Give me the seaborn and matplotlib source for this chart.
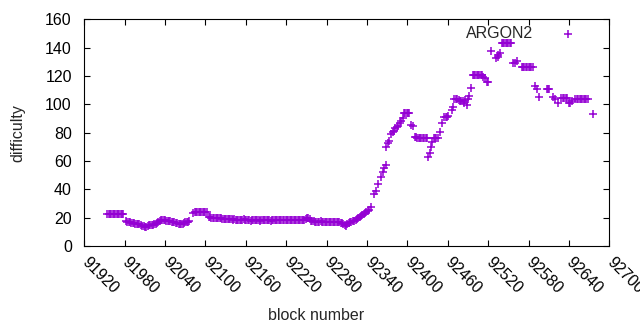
import matplotlib
matplotlib.use("Agg")
import matplotlib.pyplot as plt
import numpy as np
import seaborn as sns
import pandas as pd

# difficulty per block
blocks = [
    91954, 91956, 91958, 91960, 91962, 91964, 91966, 91968, 91970, 91972, 91974, 91976, 91978,
    91982, 91984, 91986, 91988, 91990, 91992, 91994, 91996, 91998, 92000, 92002, 92004, 92006,
    92008, 92010, 92012, 92014, 92016, 92018, 92020, 92022, 92024, 92026, 92028, 92030, 92032,
    92034, 92036, 92038, 92040, 92042, 92044, 92046, 92048, 92050, 92052, 92054, 92056, 92058,
    92060, 92062, 92064, 92066, 92068, 92070, 92072, 92074, 92076,
    92082, 92084, 92086, 92088, 92090, 92092, 92094, 92096, 92098, 92100, 92102,
    92105, 92107, 92109, 92111, 92113, 92115, 92117, 92119, 92121, 92123, 92125, 92127, 92129,
    92131, 92133, 92135, 92137, 92139, 92141, 92143, 92145, 92147, 92149, 92151, 92153, 92155,
    92157, 92159, 92161, 92163, 92165, 92167, 92169, 92171, 92173, 92175, 92177, 92179, 92181,
    92183, 92185, 92187, 92189, 92191, 92193, 92195, 92197, 92199, 92201, 92203, 92205, 92207,
    92209, 92211, 92213, 92215, 92217, 92219, 92221, 92223, 92225, 92227, 92229, 92231, 92233,
    92235, 92237, 92239, 92241, 92243, 92245, 92247, 92249, 92251, 92253, 92255, 92257, 92259,
    92261, 92263, 92265, 92267, 92269, 92271, 92273, 92275, 92277, 92279, 92281, 92283, 92285,
    92287, 92289, 92291, 92293, 92295, 92297, 92299, 92301, 92303, 92305, 92307, 92309, 92311,
    92313, 92315, 92317, 92319, 92321, 92323, 92325, 92327, 92329, 92331, 92333, 92335, 92337,
    92339, 92341, 92343, 92346,
    92350, 92353, 92357, 92361, 92364, 92366, 92368, 92369, 92371, 92373, 92376, 92378, 92380,
    92382, 92384, 92386, 92389, 92391, 92393,
    92395, 92397, 92399, 92401, 92403, 92406, 92408,
    92411, 92413, 92415, 92417, 92419, 92421, 92423, 92425, 92427, 92429,
    92431, 92433, 92435, 92437, 92439, 92441, 92443, 92445, 92449, 92451,
    92455, 92457, 92459, 92461, 92466, 92468,
    92470, 92472, 92474, 92476, 92478, 92480, 92482, 92484, 92486, 92488, 92490, 92492, 92494,
    92497, 92499, 92501, 92503, 92505, 92507, 92509, 92511, 92513, 92516, 92518, 92520,
    92525, 92531, 92534, 92535, 92538,
    92540, 92542, 92544, 92546, 92548, 92550, 92552, 92554, 92557, 92560, 92563,
    92570, 92572, 92574, 92576, 92578, 92580, 92582, 92584, 92586,
    92590, 92592, 92596, 92607, 92609, 92611, 92617, 92619, 92624,
    92629, 92631, 92633, 92635, 92637, 92640, 92642, 92645, 92649,
    92652, 92654, 92656, 92658, 92660, 92662, 92664, 92666, 92668, 92676,
]
difficulty = [
    22.4, 22.6, 22.6, 22.6, 22.6, 22.6, 22.6, 22.6, 22.6, 22.6, 22.6, 22.6, 22.6,
    17.6, 17.2, 17.0, 16.7, 16.4, 16.2, 16.0, 15.7, 15.5, 15.3, 15.3, 14.8, 14.3,
    14.0, 13.6, 13.2, 14.0, 14.6, 14.8, 15.0, 15.0, 15.3, 15.5, 16.2, 16.9, 17.6,
    18.1, 18.3, 18.3, 18.1, 17.8, 17.6, 17.6, 17.4, 17.2, 17.0, 16.7, 16.4, 16.0,
    15.7, 15.3, 15.5, 15.8, 16.2, 16.7, 16.9, 17.2, 17.6,
    23.6, 23.8, 23.8, 23.8, 23.8, 23.8, 23.8, 23.8, 23.8, 23.8, 23.8,
    20.2, 20.2, 20.0, 20.0, 20.0, 19.8, 19.8, 19.5, 19.5, 19.5, 19.2, 19.2, 19.0,
    18.8, 18.8, 18.8, 18.8, 18.8, 18.6, 18.8, 18.6, 18.6, 18.6, 18.3, 18.3, 18.6,
    18.8, 18.6, 18.3, 18.3, 18.3, 18.0, 18.3, 18.3, 18.3, 18.6, 18.3, 18.3, 18.0,
    18.3, 18.3, 18.3, 18.6, 18.3, 18.3, 18.3, 18.0, 18.3, 18.3, 18.3, 18.6, 18.3,
    18.3, 18.3, 18.3, 18.6, 18.3, 18.3, 18.3, 18.3, 18.6, 18.3, 18.3, 18.3, 18.6,
    18.6, 18.3, 18.3, 18.3, 18.3, 18.6, 18.6, 18.8, 19.5, 19.5, 19.2, 17.6, 17.4,
    17.4, 17.2, 17.2, 17.2, 17.2, 17.4, 17.2, 17.2, 17.2, 17.2, 17.2, 17.2, 17.2,
    17.2, 17.0, 17.0, 17.0, 17.0, 16.9, 16.7, 16.4, 16.0, 15.3, 14.6, 14.3, 15.3,
    16.0, 16.7, 17.2, 17.4, 17.6, 18.3, 19.0, 19.8, 20.5, 21.2, 22.0, 22.7, 23.4,
    24.0, 24.6, 25.5, 27.7,
    37.0, 38.5, 44.0, 49.0, 52.0, 55.0, 57.5, 70.0, 72.5, 74.0, 79.0, 80.5, 81.5,
    83.0, 84.0, 85.0, 86.5, 88.0, 90.0,
    93.6, 93.6, 93.6, 93.6, 93.6, 85.4, 85.0,
    76.7, 76.7, 76.5, 76.5, 76.5, 76.5, 76.5, 76.5, 76.5, 76.5,
    62.6, 65.8, 70.0, 73.5, 76.0, 76.0, 76.0, 76.0, 80.7, 86.6,
    91.2, 91.2, 91.2, 91.5, 96.0, 98.3,
    103.5, 103.5, 103.5, 103.0, 102.5, 102.5, 102.0, 101.0, 103.0, 99.5, 104.0, 105.9, 111.3,
    121.0, 121.0, 121.0, 121.0, 121.0, 121.0, 121.0, 120.5, 119.5, 118.3, 116.0, 116.0,
    137.3, 132.4, 134.8, 133.5, 136.0,
    143.0, 143.0, 143.0, 143.0, 143.0, 143.0, 143.0, 143.0, 129.0, 129.5, 130.8,
    126.1, 126.1, 126.1, 126.1, 126.1, 126.1, 126.1, 126.1, 126.1,
    112.8, 110.8, 105.4, 110.6, 110.6, 110.6, 105.4, 103.7, 100.7,
    104.2, 104.2, 104.2, 104.2, 104.2, 101.0, 100.7, 102.0, 103.7,
    103.7, 103.7, 103.7, 103.7, 103.7, 103.7, 103.7, 103.7, 103.7, 92.9,
]
series_label = "ARGON2"
x_ticks = list(range(91920, 92701, 60))
y_ticks = list(range(0, 161, 20))

df = pd.DataFrame({"block": blocks, "difficulty": difficulty})

sns.set_style("ticks")
plt.rcParams["font.family"] = ["Liberation Sans", "DejaVu Sans"]
plt.rcParams["font.size"] = 11.5

fig = plt.figure(figsize=(6.4, 3.3), dpi=100)
ax = fig.add_axes([0.1317, 0.2545, 0.8203, 0.687])

sns.scatterplot(data=df, x="block", y="difficulty", marker="+", color="#9400d3",
                s=28, linewidth=1.1, label=series_label, ax=ax)

ax.set_xlim(91920, 92700)
ax.set_ylim(0, 160)
ax.set_xticks(x_ticks)
ax.set_yticks(y_ticks)
ax.tick_params(direction="in", length=4.5, width=0.8, top=True, right=True,
               colors="black", labelsize=11.5)
ax.tick_params(axis="y", pad=9)
ax.tick_params(axis="x", pad=10)
for lab in ax.get_xticklabels():
    lab.set_rotation(-45)
    lab.set_ha("left")
    lab.set_va("center")
    lab.set_rotation_mode("anchor")
for sp in ax.spines.values():
    sp.set_visible(True)
    sp.set_color("black")
    sp.set_linewidth(0.8)

ax.set_xlabel("block number", fontsize=11.5)
ax.set_ylabel("difficulty", fontsize=11.5)
ax.xaxis.set_label_coords(0.441, -0.275)
ax.yaxis.set_label_coords(-0.113, 0.5)

ax.legend(loc="upper right", bbox_to_anchor=(0.973, 1.005), frameon=False,
          markerfirst=False, handlelength=2.4, handletextpad=1.0, borderpad=0,
          fontsize=11.5)

fig.savefig("out.png", dpi=100)
